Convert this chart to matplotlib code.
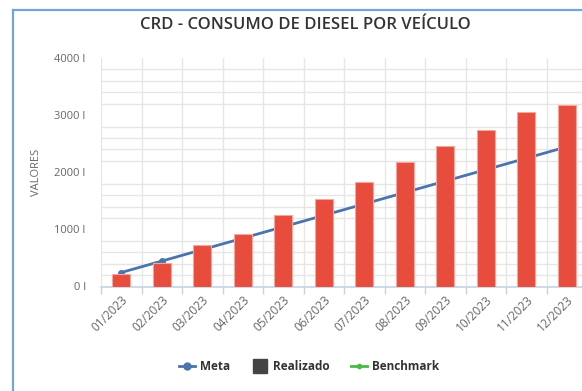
import numpy as np
import matplotlib.pyplot as plt
from matplotlib.lines import Line2D

plt.rcParams['font.family'] = ['Open Sans', 'DejaVu Sans']

# dados mensais (litros)
meses = ['01/2023', '02/2023', '03/2023', '04/2023', '05/2023', '06/2023',
         '07/2023', '08/2023', '09/2023', '10/2023', '11/2023', '12/2023']
realizado = [220, 410, 720, 925, 1245, 1530, 1835, 2175, 2465, 2735, 3060, 3180]
meta = [245, 445, 645, 845, 1045, 1245, 1445, 1645, 1845, 2045, 2245, 2445]
y_ticks = [0, 1000, 2000, 3000, 4000]

cor_barra = '#e84c3d'
cor_meta = '#4a74ad'
cor_bench = '#4cb944'
cor_texto = '#666666'

fig = plt.figure(figsize=(5.82, 3.91), dpi=100)
W, H = 582, 391

# moldura azul do painel
fig.add_artist(Line2D([13 / W, 13 / W], [0, 1 - 10 / H], color='#72a5d8', lw=1.6))
fig.add_artist(Line2D([13 / W, 1], [1 - 10 / H, 1 - 10 / H], color='#72a5d8', lw=1.6))

ax = fig.add_axes([101 / W, 1 - 286.5 / H, 486 / W, 228.5 / H])
x = np.arange(len(meses))

ax.plot(x, meta, color=cor_meta, lw=2, marker='o', ms=4, zorder=2)
ax.bar(x, realizado, width=0.45, color=cor_barra, edgecolor='#f4a79f', lw=0.8, zorder=3)

ax.set_xlim(-0.5, len(meses) - 0.5)
ax.set_ylim(0, 4000)

ax.set_yticks(y_ticks)
ax.set_yticklabels([f'{v} l' for v in y_ticks])
ax.set_yticks(np.arange(0, 4001, 200), minor=True)
ax.tick_params(axis='y', which='both', length=0, pad=11, labelsize=8, labelcolor=cor_texto)

ax.set_xticks(x)
ax.set_xticklabels(meses, rotation=45, ha='right', rotation_mode='anchor')
ax.set_xticks(np.arange(-0.5, len(meses)), minor=True)
ax.tick_params(axis='x', which='major', length=0, pad=5, labelsize=8.5, labelcolor=cor_texto)
ax.tick_params(axis='x', which='minor', length=5, color='#c5d3e3', width=1)

ax.grid(True, which='minor', axis='both', color='#e6e6e6', lw=1, zorder=0)
ax.grid(False, which='major')
ax.set_axisbelow(True)

for s in ['top', 'right', 'left']:
    ax.spines[s].set_visible(False)
ax.spines['bottom'].set_color('#c5d3e3')
ax.spines['bottom'].set_linewidth(1.2)

ax.set_ylabel('VALORES', fontsize=8, color=cor_texto, labelpad=9)

fig.text(305 / W, 1 - 25 / H, 'CRD - CONSUMO DE DIESEL POR VEÍCULO',
         ha='center', va='center', fontsize=12, fontweight='semibold', color='#333333')

handles = [
    Line2D([], [], color=cor_meta, lw=2, marker='o', ms=5),
    Line2D([], [], color='#444444', lw=0, marker='s', ms=10),
    Line2D([], [], color=cor_bench, lw=2, marker='o', ms=3),
]
leg = fig.legend(handles, ['Meta', 'Realizado', 'Benchmark'], loc='center',
                 bbox_to_anchor=(309 / W, 1 - 367 / H), ncol=3, frameon=False,
                 prop={'weight': 'bold', 'size': 8.5}, handlelength=1.4,
                 handletextpad=0.4, columnspacing=1.8)
for t in leg.get_texts():
    t.set_color('#333333')

fig.savefig('out.png', dpi=100)
